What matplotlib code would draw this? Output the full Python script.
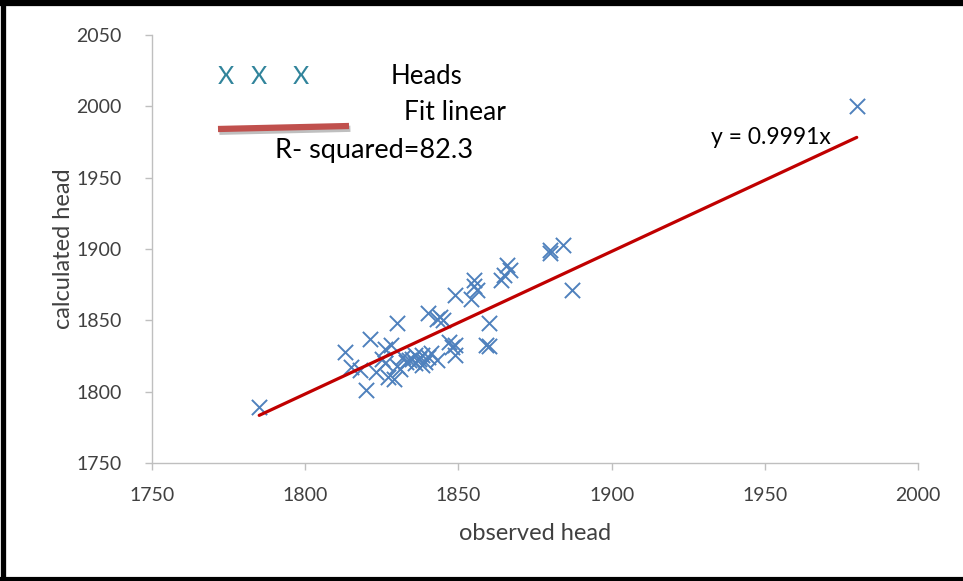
import matplotlib
matplotlib.use("Agg")
import matplotlib.pyplot as plt
import matplotlib.patheffects as pe
from matplotlib.lines import Line2D
import numpy as np

plt.rcParams['font.family'] = ['Lato', 'DejaVu Sans']

# observed vs calculated heads
observed = [1785, 1980, 1813, 1821, 1830, 1815, 1820, 1828, 1825, 1823,
            1827, 1829, 1830, 1833, 1835, 1837, 1836, 1839, 1838, 1841,
            1843, 1840, 1843, 1845, 1847, 1849, 1849, 1849, 1854, 1855,
            1856, 1860, 1859, 1860, 1864, 1865, 1866, 1867, 1880, 1880,
            1884, 1887, 1834, 1836, 1831, 1826, 1840, 1838, 1832, 1818,
            1826, 1848, 1855, 1844]
calculated = [1789, 2000, 1828, 1837, 1848, 1817, 1801, 1833, 1823, 1814,
              1810, 1809, 1818, 1821, 1823, 1823, 1826, 1821, 1819, 1827,
              1822, 1855, 1851, 1850, 1835, 1833, 1826, 1868, 1865, 1878,
              1871, 1848, 1833, 1832, 1878, 1882, 1889, 1885, 1899, 1897,
              1903, 1871, 1822, 1820, 1816, 1820, 1824, 1826, 1824, 1815,
              1830, 1831, 1874, 1852]
slope = 0.9991

x_ticks = [1750, 1800, 1850, 1900, 1950, 2000]
y_ticks = [1750, 1800, 1850, 1900, 1950, 2000, 2050]

fig = plt.figure(figsize=(9.63, 5.81), dpi=100)
ax = fig.add_axes([0.1578, 0.2031, 0.7955, 0.7367])

ax.scatter(observed, calculated, marker='x', s=120, linewidths=1.4,
           color='#4F81BD', zorder=3)

xs = np.array([min(observed), max(observed)])
ax.plot(xs, slope * xs, color='#C00000', lw=2.3, zorder=4,
        solid_capstyle='round')

ax.set_xlim(x_ticks[0], x_ticks[-1])
ax.set_ylim(y_ticks[0], y_ticks[-1])
ax.set_xticks(x_ticks)
ax.set_yticks(y_ticks)

gray = '#BFBFBF'
for side in ('top', 'right'):
    ax.spines[side].set_visible(False)
for side in ('left', 'bottom'):
    ax.spines[side].set_color(gray)
    ax.spines[side].set_linewidth(1.0)
ax.tick_params(axis='both', direction='out', length=5, width=1.0,
               color=gray, labelcolor='#404040', labelsize=14)
ax.tick_params(axis='y', pad=17)
ax.tick_params(axis='x', pad=12)

ax.set_xlabel('observed head', fontsize=17, color='#404040', labelpad=14)
ax.set_ylabel('calculated head', fontsize=17, color='#404040', labelpad=1.5)

ax.text(1952, 1978, 'y = 0.9991x', fontsize=16.5, color='black',
        ha='center', va='center')

# hand-drawn key in the upper left
for xp in (226, 259, 301):
    fig.text(xp / 963, 1 - 77 / 581, 'X', fontsize=18, color='#31849B',
             ha='center', va='center')
fig.text(426 / 963, 1 - 76 / 581, 'Heads', fontsize=18.5, color='black',
         ha='center', va='center')
fig.text(455 / 963, 1 - 113 / 581, 'Fit linear', fontsize=19, color='black',
         ha='center', va='center')
fig.text(374 / 963, 1 - 150 / 581, 'R- squared=82.3', fontsize=19.5,
         color='black', ha='center', va='center')
key_line = Line2D([218 / 963, 349 / 963], [1 - 129 / 581, 1 - 126 / 581],
                  transform=fig.transFigure, color='#C0504D', lw=4.5,
                  solid_capstyle='butt',
                  path_effects=[pe.SimpleLineShadow(offset=(1, -2),
                                                    shadow_color='#808080',
                                                    alpha=0.5),
                                pe.Normal()])
fig.add_artist(key_line)

# outer frame
frame_kw = dict(transform=fig.transFigure, color='black', solid_capstyle='butt')
fig.add_artist(Line2D([0, 1], [1 - 3 / 581, 1 - 3 / 581], lw=4.5, **frame_kw))
fig.add_artist(Line2D([2.5 / 963, 2.5 / 963], [0, 1], lw=3.8, **frame_kw))
fig.add_artist(Line2D([0, 1], [2 / 581, 2 / 581], lw=3.0, **frame_kw))

fig.savefig('out.png', dpi=100)
